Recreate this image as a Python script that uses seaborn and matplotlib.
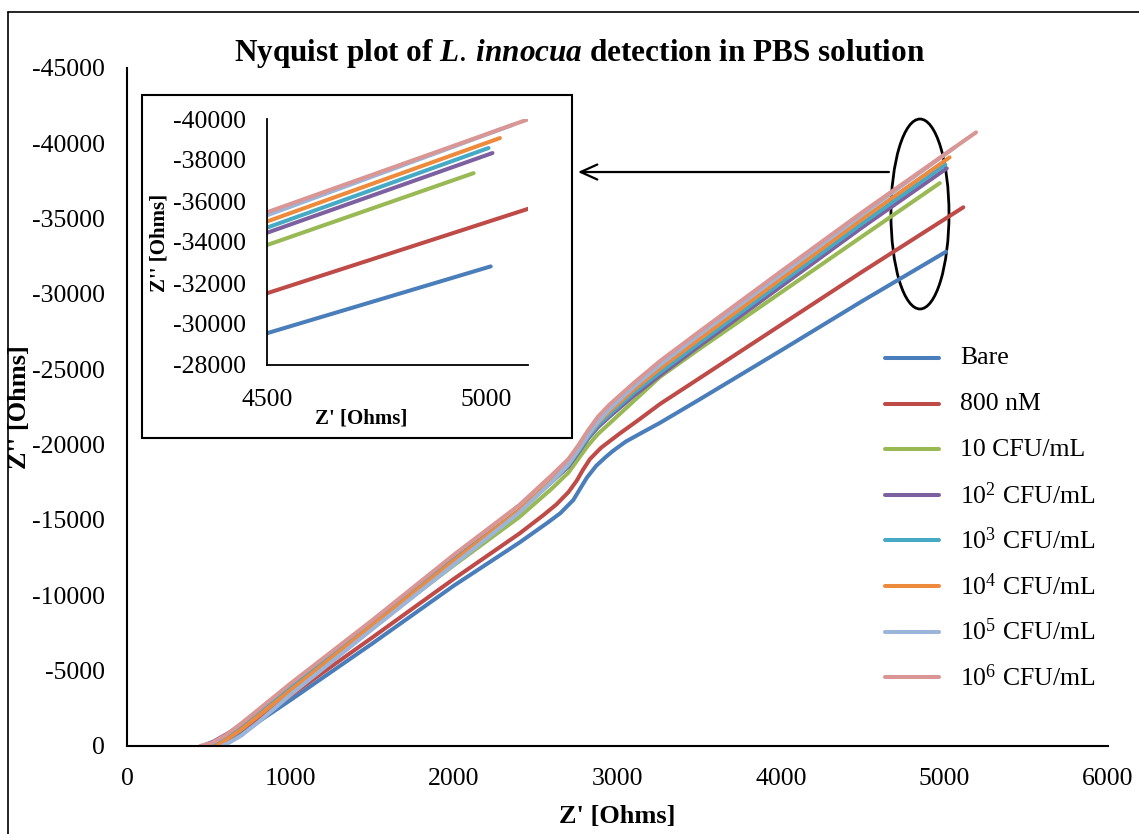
import numpy as np
import pandas as pd
import matplotlib
matplotlib.use("Agg")
import matplotlib.pyplot as plt
import seaborn as sns
from matplotlib.patches import Ellipse, Rectangle
from matplotlib.lines import Line2D

# ---------------- data ----------------
labels = ["Bare", "800 nM", "10 CFU/mL",
          r"10$^{\mathregular{2}}$ CFU/mL", r"10$^{\mathregular{3}}$ CFU/mL",
          r"10$^{\mathregular{4}}$ CFU/mL", r"10$^{\mathregular{5}}$ CFU/mL",
          r"10$^{\mathregular{6}}$ CFU/mL"]

bare_x = [560, 620, 700, 1000, 1500, 2000, 2400, 2567, 2650, 2730, 2770, 2812, 2870, 2930, 2974, 3050, 3150, 3260, 3500, 4000, 4500, 5010]
bare_y = [0, -300, -850, -3050, -6800, -10650, -13500, -14780, -15450, -16330, -17050, -17800, -18600, -19200, -19600, -20200, -20800, -21450, -22990, -26250, -29550, -32810]

nm800_x = [520, 600, 700, 1000, 1500, 2000, 2400, 2550, 2628, 2700, 2750, 2790, 2832, 2900, 3015, 3130, 3260, 3500, 4000, 4500, 5115]
nm800_y = [0, -400, -1100, -3350, -7200, -11100, -14100, -15350, -16050, -16850, -17600, -18350, -19050, -19800, -20750, -21650, -22700, -24400, -27950, -31500, -35755]

c1_x = [480, 560, 650, 1000, 1500, 2000, 2400, 2600, 2700, 2760, 2820, 2880, 2950, 3100, 3260, 3500, 4000, 4500, 4971]
c1_y = [0, -300, -900, -3800, -7900, -12000, -15200, -17100, -18150, -19050, -19950, -20700, -21400, -22900, -24500, -26350, -30100, -33850, -37360]

c2_x = [460, 530, 650, 1000, 1500, 2000, 2400, 2600, 2700, 2760, 2820, 2880, 2950, 3100, 3260, 3500, 4000, 4500, 5014]
c2_y = [0, -300, -1050, -4050, -8200, -12400, -15650, -17550, -18550, -19450, -20400, -21150, -21850, -23250, -24600, -26550, -30500, -34450, -38340]

c3_x = [500, 560, 650, 800, 1000, 1500, 2000, 2400, 2600, 2700, 2760, 2820, 2880, 2950, 3100, 3260, 3500, 4000, 4500, 5005]
c3_y = [0, -300, -900, -2150, -3900, -8100, -12350, -15650, -17600, -18650, -19550, -20500, -21300, -22000, -23450, -24800, -26750, -30750, -34700, -38585]

c4_x = [545, 600, 700, 850, 1000, 1500, 2000, 2400, 2600, 2700, 2760, 2820, 2880, 2950, 3100, 3260, 3500, 4000, 4500, 5031]
c4_y = [0, -350, -1100, -2400, -3700, -8000, -12300, -15650, -17650, -18750, -19650, -20650, -21450, -22200, -23650, -25050, -27000, -31000, -35000, -39070]

c5_x = [580, 630, 700, 800, 1000, 1500, 2000, 2400, 2600, 2700, 2760, 2820, 2880, 2950, 3100, 3260, 3500, 4000, 4500, 5061]
c5_y = [0, -250, -700, -1550, -3400, -7750, -12050, -15500, -17550, -18700, -19650, -20650, -21500, -22350, -23850, -25300, -27300, -31300, -35300, -39720]

c6_x = [447, 520, 600, 700, 1000, 1500, 2000, 2400, 2600, 2700, 2760, 2820, 2880, 2950, 3100, 3260, 3500, 4000, 4500, 5193]
c6_y = [0, -200, -700, -1500, -4150, -8350, -12700, -16000, -18000, -19050, -19950, -20950, -21850, -22650, -24100, -25550, -27500, -31500, -35450, -40730]

series_x = [bare_x, nm800_x, c1_x, c2_x, c3_x, c4_x, c5_x, c6_x]
series_y = [bare_y, nm800_y, c1_y, c2_y, c3_y, c4_y, c5_y, c6_y]

colors = ["#4A7EBB", "#BE4B48", "#98B954", "#7D60A0", "#46AAC5", "#EE8A3C", "#9BB5DA", "#D99694"]

x_ticks = [0, 1000, 2000, 3000, 4000, 5000, 6000]
y_ticks = [0, -5000, -10000, -15000, -20000, -25000, -30000, -35000, -40000, -45000]
inset_x_ticks = [4500, 5000]
inset_y_ticks = [-28000, -30000, -32000, -34000, -36000, -38000, -40000]

# ---------------- build long table ----------------
rows = []
for lab, xs, ys in zip(labels, series_x, series_y):
    for i, (x, y) in enumerate(zip(xs, ys)):
        rows.append({"series": lab, "order": i, "Zre": x, "Zim": y})
df = pd.DataFrame(rows)
palette = dict(zip(labels, colors))

# ---------------- style ----------------
sns.set_theme(style="white")
plt.rcParams["font.family"] = ["Liberation Serif", "DejaVu Serif"]
plt.rcParams["mathtext.fontset"] = "custom"
plt.rcParams["mathtext.rm"] = "Liberation Serif"
plt.rcParams["mathtext.it"] = "Liberation Serif:italic:bold"
plt.rcParams["mathtext.bf"] = "Liberation Serif:bold"
plt.rcParams["axes.unicode_minus"] = False
plt.rcParams["text.color"] = "black"
plt.rcParams["axes.labelcolor"] = "black"
plt.rcParams["xtick.color"] = "black"
plt.rcParams["ytick.color"] = "black"

W, H = 1139, 834
fig = plt.figure(figsize=(W / 100, H / 100), dpi=100)

def fx(px):
    return px / W

def fy(py):
    return 1 - py / H

# outer chart-area frame (partially cropped in reference)
fig.add_artist(Line2D([fx(8), 1.0], [fy(12), fy(12)], color="black", lw=1.2, transform=fig.transFigure))
fig.add_artist(Line2D([fx(8), fx(8)], [fy(12), 0.0], color="black", lw=1.2, transform=fig.transFigure))

# ---------------- main axes ----------------
ax = fig.add_axes([fx(127), fy(746), fx(1108) - fx(127), fy(68) - fy(746)])
ax.set_zorder(0)
sns.lineplot(data=df, x="Zre", y="Zim", hue="series", palette=palette, hue_order=labels,
             units="series", estimator=None, sort=False, lw=2.9, legend=False, ax=ax)
for ln in ax.lines:
    ln.set_solid_capstyle("round")
    ln.set_solid_joinstyle("round")

ax.set_xlim(0, 6000)
ax.set_ylim(0, -45000)
ax.set_xticks(x_ticks)
ax.set_yticks(y_ticks)
ax.set_xticklabels([str(t) for t in x_ticks])
ax.set_yticklabels([str(t) for t in y_ticks])
for s in ["top", "right"]:
    ax.spines[s].set_visible(False)
for s in ["left", "bottom"]:
    ax.spines[s].set_color("black")
    ax.spines[s].set_linewidth(1.5)
ax.tick_params(axis="x", direction="in", length=7, width=1.2, labelsize=18.5, pad=16)
ax.tick_params(axis="y", direction="out", length=7, width=1.2, labelsize=18.5, pad=9)
ax.set_xlabel("Z' [Ohms]", fontsize=19, fontweight="bold", labelpad=11)
ax.set_ylabel("Z'' [Ohms]", fontsize=19, fontweight="bold")
ax.yaxis.set_label_coords(-0.098, 0.5)
ax.grid(False)

# ellipse + arrow
ax.add_patch(Ellipse((4850, -35310), width=355, height=12610, fill=False, edgecolor="black", lw=2.0))
ax.annotate("", xy=(2758, -38096), xytext=(4660, -38096),
            arrowprops=dict(arrowstyle="->,head_length=1.0,head_width=0.45", color="black", lw=1.6,
                            shrinkA=0, shrinkB=0), annotation_clip=False)

# legend (drawn entry by entry for uniform row spacing)
leg_x0, leg_x1, leg_tx = 885, 939, 960
leg_y0, leg_dy = 358, 45.6
for i, (lab, c) in enumerate(zip(labels, colors)):
    yy = leg_y0 + i * leg_dy
    fig.add_artist(Line2D([fx(leg_x0), fx(leg_x1)], [fy(yy), fy(yy)], color=c, lw=2.9,
                          solid_capstyle="round", transform=fig.transFigure))
    fig.text(fx(leg_tx), fy(yy - 2), lab, ha="left", va="center_baseline", fontsize=18.5)

# title
fig.text(fx(580), fy(54), r"Nyquist plot of $L.\,innocua$ detection in PBS solution",
         ha="center", va="center", fontsize=22.5, fontweight="bold")

# ---------------- inset ----------------
fig.add_artist(Rectangle((fx(142), fy(438)), fx(572) - fx(142), fy(95) - fy(438),
                         transform=fig.transFigure, facecolor="white", edgecolor="black",
                         lw=1.5, zorder=1))

axi = fig.add_axes([fx(267), fy(365), fx(528) - fx(267), fy(119) - fy(365)])
axi.set_zorder(2)
axi.patch.set_alpha(0)
sns.lineplot(data=df, x="Zre", y="Zim", hue="series", palette=palette, hue_order=labels,
             units="series", estimator=None, sort=False, lw=2.9, legend=False, ax=axi)
for ln in axi.lines:
    ln.set_solid_capstyle("round")
axi.set_xlim(4500, 5095)
axi.set_ylim(-28000, -40000)
axi.set_xticks(inset_x_ticks)
axi.set_yticks(inset_y_ticks)
axi.set_xticklabels([str(t) for t in inset_x_ticks])
axi.set_yticklabels([str(t) for t in inset_y_ticks])
for s in ["top", "right"]:
    axi.spines[s].set_visible(False)
for s in ["left", "bottom"]:
    axi.spines[s].set_color("black")
    axi.spines[s].set_linewidth(1.3)
axi.tick_params(axis="x", direction="in", length=6, width=1.1, labelsize=18.5, pad=17)
axi.tick_params(axis="y", direction="out", length=6, width=1.1, labelsize=18.5, pad=9)
axi.set_xlabel("Z' [Ohms]", fontsize=15, fontweight="bold")
axi.set_ylabel("Z'' [Ohms]", fontsize=15, fontweight="bold")
axi.xaxis.set_label_coords(0.36, -0.175)
axi.yaxis.set_label_coords(-0.375, 0.496)
axi.grid(False)

fig.savefig("out.png", dpi=100)
